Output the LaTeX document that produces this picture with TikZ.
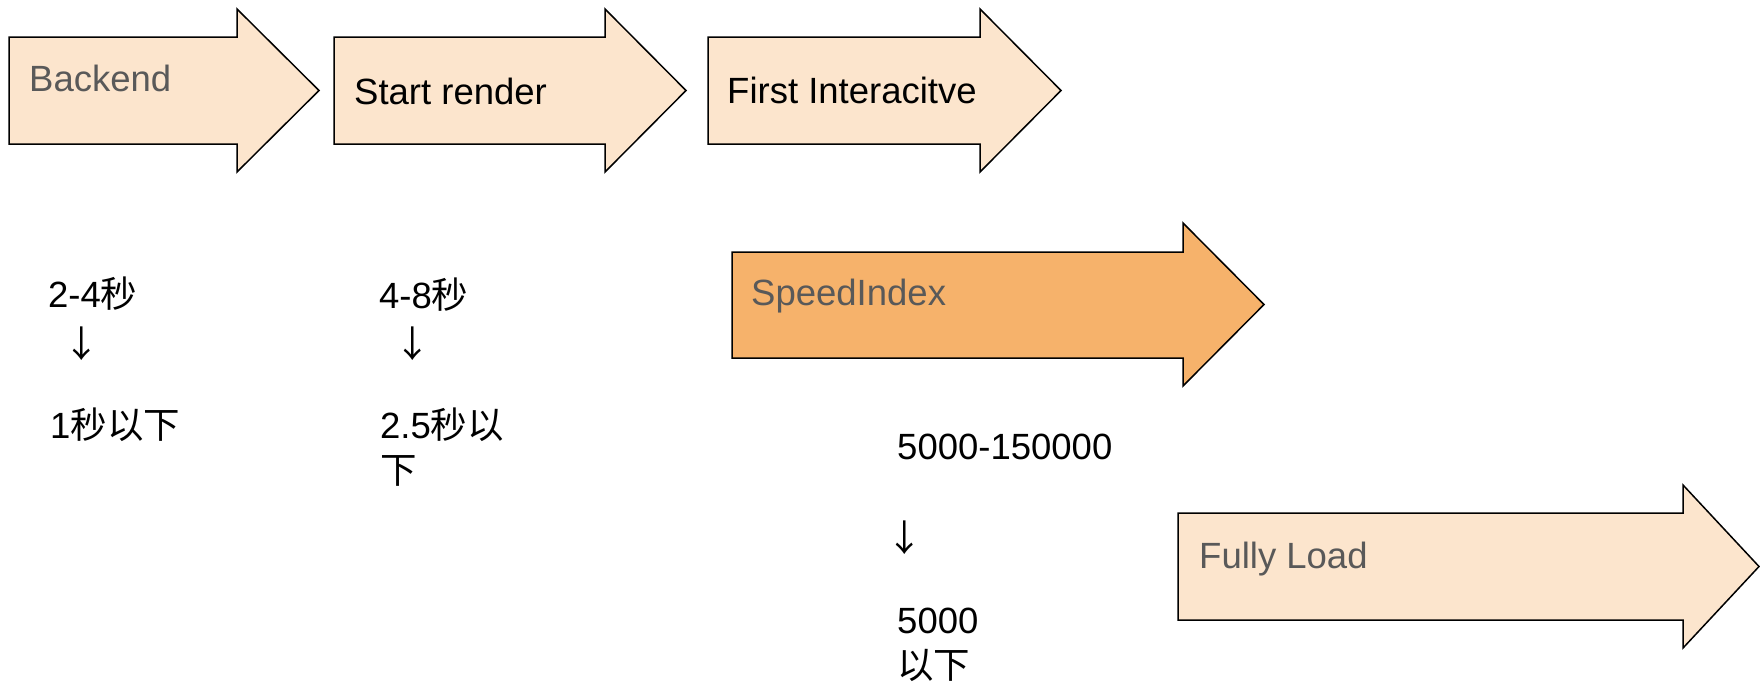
\documentclass[tikz,border=0pt]{standalone}
\usepackage{fontspec}
\setmainfont{Liberation Sans}
\newfontfamily\cjk{Noto Sans CJK SC}
\definecolor{lightor}{HTML}{FCE5CD}
\definecolor{midor}{HTML}{F6B26B}
\definecolor{graytxt}{HTML}{595959}
\tikzset{
  arrowshape/.style={draw=black, line width=1.5pt, line join=miter},
  lbl/.style={anchor=base west, inner sep=0pt, font=\fontsize{36.5}{45}\selectfont, align=left},
  glbl/.style={lbl, text=graytxt},
  downsym/.style={anchor=center, inner sep=0pt, font=\fontsize{36.5}{45}\selectfont\cjk},
}
% fill, left, base, tip, top, bottom, head top, head bottom, mid
\newcommand\blockarrow[9]{%
  \path[arrowshape, fill=#1] (#2,#5) -- (#3,#5) -- (#3,#7) -- (#4,#9) -- (#3,#8) -- (#3,#6) -- (#2,#6) -- cycle;}
\begin{document}
\begin{tikzpicture}[x=1pt,y=-1pt]
\useasboundingbox (0,0) rectangle (1760,683);
\blockarrow{lightor}{9}{237}{319}{37}{144}{9}{172}{90.5}
\blockarrow{lightor}{334}{605}{686}{37}{144}{9}{172}{90.5}
\blockarrow{lightor}{708}{980}{1061}{37}{144}{9}{172}{90.5}
\blockarrow{midor}{732}{1183}{1264}{252}{358}{223}{386}{304.5}
\blockarrow{lightor}{1178}{1683}{1759}{513}{620}{485}{648}{566.5}

\node[glbl] (backend) at (29,91) {Backend};
\node[lbl] (startr) at (354,104) {Start render};
\node[lbl] (firsti) at (727,103) {First Interacitve};
\node[glbl] (speed) at (751,305) {SpeedIndex};
\node[glbl] (fully) at (1199,568) {Fully Load};

\node[lbl] (a1) at (48,307) {2-4{\cjk 秒}};
\node[downsym] (a2) at (82,343.5) {↓};
\node[lbl] (a3) at (50,438) {1{\cjk 秒以下}};

\node[lbl] (b1) at (379,308) {4-8{\cjk 秒}};
\node[downsym] (b2) at (413,343.5) {↓};
\node[lbl] (b3) at (380,483) {2.5{\cjk 秒以}\\{\cjk 下}};

\node[lbl] (c1) at (897,459) {5000-150000};
\node[downsym] (c2) at (905,538) {↓};
\node[lbl] (c3) at (897,678) {5000\\{\cjk 以下}};
\end{tikzpicture}
\end{document}
